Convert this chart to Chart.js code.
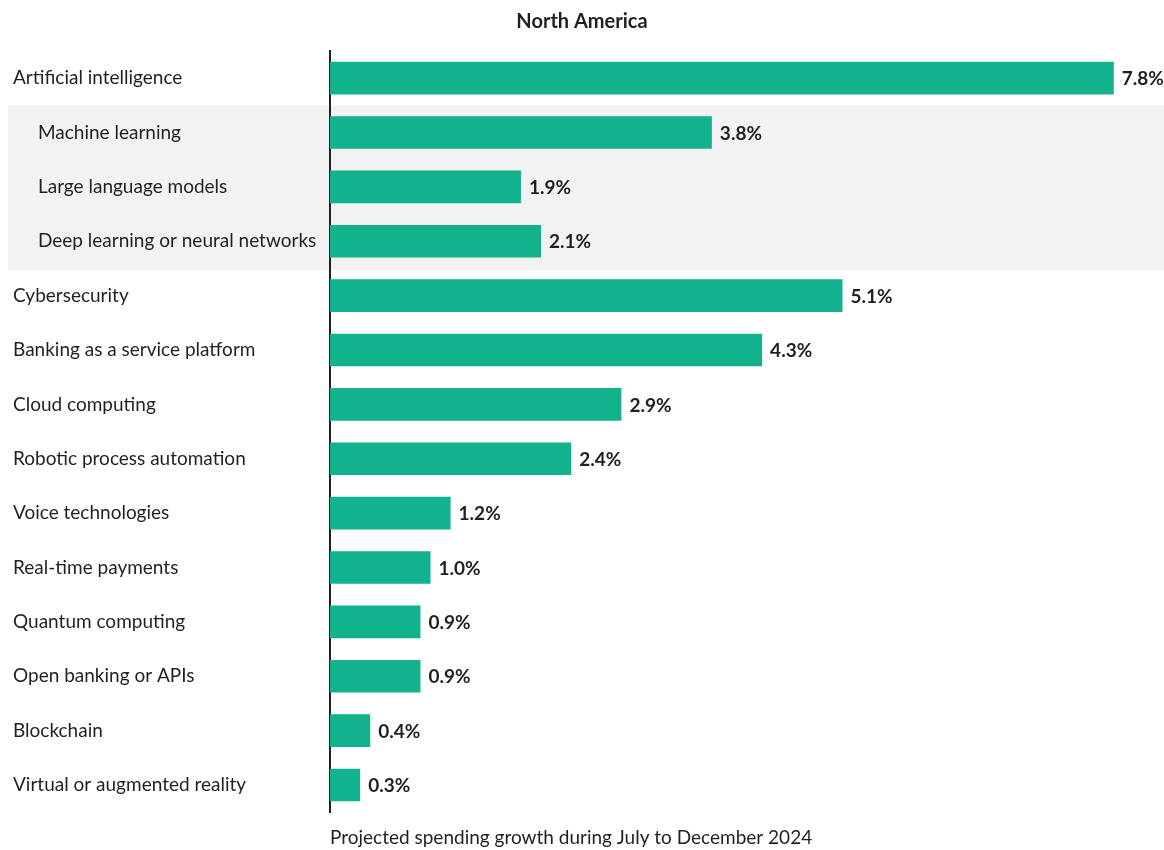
<!DOCTYPE html>
<html>
<head>
<meta charset="utf-8">
<script src="https://cdn.jsdelivr.net/npm/chart.js@4/dist/chart.umd.min.js"></script>
<style>
  html, body { margin: 0; padding: 0; background: #fff; }
  #wrap { width: 1164px; height: 850px; position: relative; }
</style>
</head>
<body>
<div id="wrap"><canvas id="chart"></canvas></div>
<script>
const categories = [
  "Artificial intelligence",
  "Machine learning",
  "Large language models",
  "Deep learning or neural networks",
  "Cybersecurity",
  "Banking as a service platform",
  "Cloud computing",
  "Robotic process automation",
  "Voice technologies",
  "Real-time payments",
  "Quantum computing",
  "Open banking or APIs",
  "Blockchain",
  "Virtual or augmented reality"
]
const growth = [7.8, 3.8, 1.9, 2.1, 5.1, 4.3, 2.9, 2.4, 1.2, 1.0, 0.9, 0.9, 0.4, 0.3]
// sub-categories of artificial intelligence, drawn indented on a grey band
const subItems = ["Machine learning", "Large language models", "Deep learning or neural networks"]

const FONT = "Lato, 'Noto Sans', sans-serif"
const TEXT = "#231f20"

// grey band behind the AI sub-categories
const bandPlugin = {
  id: 'band',
  beforeDraw(chart) {
    const y = chart.scales.y
    const idx = subItems.map(s => categories.indexOf(s))
    const first = Math.min(...idx), last = Math.max(...idx)
    const step = y.getPixelForValue(1) - y.getPixelForValue(0)
    const top = y.getPixelForValue(first) - step / 2
    const bottom = y.getPixelForValue(last) + step / 2 + 2
    const ctx = chart.ctx
    ctx.save()
    ctx.fillStyle = '#f2f2f2'
    ctx.fillRect(8, top, chart.width - 8, bottom - top)
    ctx.restore()
  }
}

// value labels at the end of each bar
const valueLabels = {
  id: 'valueLabels',
  afterDatasetsDraw(chart) {
    const ctx = chart.ctx
    const meta = chart.getDatasetMeta(0)
    ctx.save()
    ctx.font = "bold 19px " + FONT
    ctx.fillStyle = TEXT
    ctx.textAlign = 'left'
    ctx.textBaseline = 'middle'
    meta.data.forEach((bar, i) => {
      ctx.fillText(growth[i].toFixed(1) + '%', bar.x + 8, bar.y + 1)
    })
    ctx.restore()
  }
}

new Chart(document.getElementById('chart'), {
  type: 'bar',
  data: {
    labels: categories,
    datasets: [{
      data: growth,
      backgroundColor: '#12b28f',
      borderWidth: 0,
      barPercentage: 0.6,
      categoryPercentage: 1
    }]
  },
  options: {
    indexAxis: 'y',
    responsive: true,
    maintainAspectRatio: false,
    animation: false,
    layout: { padding: { left: 13, right: 13, top: 0, bottom: 0 } },
    scales: {
      x: {
        min: 0,
        max: 8.17,   // leaves room on the right for the 7.8% label
        grid: { display: false, drawTicks: false },
        border: { display: false },
        ticks: { display: false },
        title: {
          display: true,
          text: 'Projected spending growth during July to December 2024',
          align: 'start',
          color: TEXT,
          font: { family: FONT, size: 19 },
          padding: { top: 14, bottom: 1 }
        }
      },
      y: {
        grid: { display: false, drawTicks: false },
        border: { display: true, color: TEXT, width: 2 },
        afterFit(scale) { scale.width = 317 },
        ticks: {
          crossAlign: 'far',
          color: TEXT,
          font: { family: FONT, size: 19 },
          callback(value) {
            const name = categories[value]
            return subItems.includes(name) ? '\u2003\u2002\u200a' + name : name
          }
        }
      }
    },
    plugins: {
      legend: { display: false },
      tooltip: { enabled: false },
      title: {
        display: true,
        text: 'North America',
        color: TEXT,
        font: { family: FONT, size: 20, weight: 'bold' },
        padding: { top: 10, bottom: 17 }
      }
    }
  },
  plugins: [bandPlugin, valueLabels]
})
</script>
</body>
</html>
